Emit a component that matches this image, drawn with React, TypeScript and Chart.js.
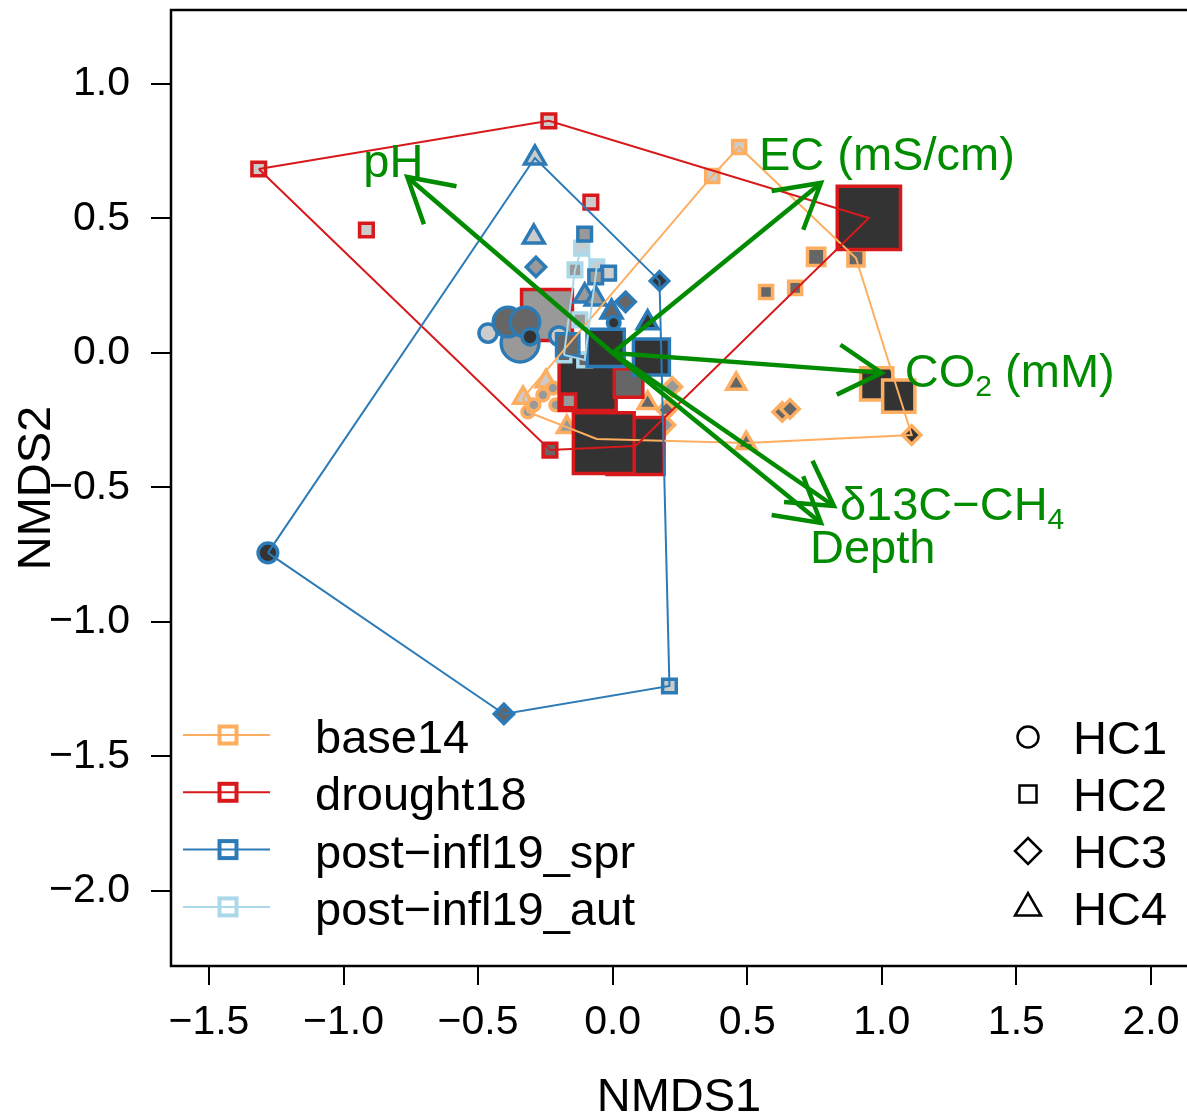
import React, { useEffect, useRef } from 'react';
import { Chart, registerables } from 'chart.js';

Chart.register(...registerables);

// ---------- data ----------
const groupNames = ['base14', 'drought18', 'post−infl19_spr', 'post−infl19_aut'];
const groupColors = ['#FDAE61', '#D7191C', '#2C7BB6', '#ABD9E9'];
const hcNames = ['HC1', 'HC2', 'HC3', 'HC4'];
const fillShades = ['#CCCCCC', '#999999', '#666666', '#333333'];

const base14X = [0.470, 0.370, 0.570, 0.678, 0.756, 0.904, 0.981, 1.063, 1.111, 0.459, 0.630, 0.659, 0.496, -0.059, -0.248, -0.333, -0.315, -0.293, -0.259, -0.222, -0.211, -0.170, 0.130, 0.222, 0.200, 0.196];
const base14Y = [0.766, 0.658, 0.227, 0.242, 0.357, 0.353, -0.115, -0.160, -0.305, -0.115, -0.219, -0.208, -0.335, -0.320, -0.105, -0.167, -0.219, -0.193, -0.156, -0.130, -0.193, -0.275, -0.186, -0.126, -0.212, -0.268];
const base14HC = [2, 2, 2, 2, 2, 2, 2, 2, 3, 4, 3, 3, 4, 4, 4, 4, 1, 1, 1, 1, 1, 4, 4, 3, 3, 3];
const base14Fill = [1, 1, 3, 3, 3, 3, 4, 4, 4, 3, 3, 3, 3, 2, 1, 1, 2, 2, 2, 2, 2, 2, 3, 2, 3, 2];
const base14Cex = [1.05, 1.05, 1.05, 1.05, 1.4, 1.3, 2.6, 2.6, 1.05, 1.0, 1.05, 1.05, 1.0, 1.0, 1.0, 1.0, 0.85, 0.85, 0.85, 0.85, 0.85, 1.0, 1.0, 1.05, 1.05, 1.05];

const drought18X = [-1.315, -0.237, -0.915, -0.081, 0.952, -0.244, 0.085, -0.093, 0.059, -0.033, -0.163, -0.233];
const drought18Y = [0.684, 0.863, 0.457, 0.561, 0.502, 0.141, -0.346, -0.108, -0.112, -0.335, -0.178, -0.361];
const drought18HC = [2, 2, 2, 2, 2, 2, 2, 2, 2, 2, 2, 2];
const drought18Fill = [1, 1, 1, 1, 4, 2, 4, 4, 3, 4, 2, 3];
const drought18Cex = [1.1, 1.1, 1.1, 1.1, 5.1, 4.1, 4.6, 4.6, 2.3, 4.9, 1.1, 1.1];

const sprX = [-0.463, -0.344, -0.389, -0.326, -0.307, -0.200, -0.289, -0.293, -0.285, -0.104, -0.015, -0.063, -0.104, -0.063, 0.048, -0.004, 0.130, 0.004, 0.174, -0.167, -0.026, 0.144, -1.281, -0.404, 0.211];
const sprY = [0.074, 0.037, 0.115, 0.115, 0.060, 0.063, 0.725, 0.431, 0.320, 0.442, 0.297, 0.283, 0.212, 0.201, 0.190, 0.152, 0.112, 0.112, 0.268, 0.030, 0.019, -0.015, -0.743, -1.342, -1.238];
const sprHC = [1, 1, 1, 1, 1, 1, 4, 4, 3, 2, 2, 2, 4, 4, 3, 4, 4, 1, 3, 2, 2, 2, 1, 3, 2];
const sprFill = [1, 2, 3, 3, 4, 1, 1, 1, 2, 2, 1, 2, 2, 2, 3, 3, 4, 4, 4, 3, 4, 4, 4, 3, 1];
const sprCex = [1.3, 2.7, 2.1, 2.1, 1.15, 1.3, 1.1, 1.1, 1.1, 1.1, 1.1, 1.1, 1.1, 1.1, 1.1, 1.1, 1.1, 0.9, 1.05, 1.8, 3.0, 2.9, 1.4, 1.1, 1.1];

const autX = [-0.115, -0.140, -0.059, -0.122, -0.181, -0.104];
const autY = [0.390, 0.309, 0.320, 0.123, -0.007, -0.026];
const autHC = [2, 2, 2, 2, 2, 2];
const autFill = [1, 2, 1, 2, 3, 3];
const autCex = [1.1, 1.1, 1.1, 1.1, 1.1, 1.1];

const envLabels = ['pH', 'EC (mS/cm)', 'CO₂ (mM)', 'δ13C−CH₄', 'Depth'];
const envX = [-0.763, 0.774, 1.000, 0.822, 0.774];
const envY = [0.654, 0.632, -0.074, -0.569, -0.632];

const xTicks = [-1.5, -1.0, -0.5, 0.0, 0.5, 1.0, 1.5, 2.0];
const yTicks = [-2.0, -1.5, -1.0, -0.5, 0.0, 0.5, 1.0];

// ---------- styling ----------
const FONT = '"Liberation Sans", Arial, Helvetica, sans-serif';
const GREEN = '#008B00';
const BASE_R = 7;
const SHAPES = ['circle', 'rect', 'rectRot', 'triangle'];
const SHAPE_FACTOR = [1, 1.253, 1.253, 1.555];
// label placement relative to arrow tip (px): dx, dy to baseline-left
const LABEL_DX = [-44, -62, 23, 6, -11];
const LABEL_DY = [0, -13, 14, 14, 40];

function convexHull(xs: number[], ys: number[]) {
  const pts = xs.map((x, i) => [x, ys[i]]).sort((a, b) => a[0] - b[0] || a[1] - b[1]);
  const cross = (o: number[], a: number[], b: number[]) =>
    (a[0] - o[0]) * (b[1] - o[1]) - (a[1] - o[1]) * (b[0] - o[0]);
  const lower: number[][] = [];
  for (const p of pts) {
    while (lower.length >= 2 && cross(lower[lower.length - 2], lower[lower.length - 1], p) <= 0) lower.pop();
    lower.push(p);
  }
  const upper: number[][] = [];
  for (let i = pts.length - 1; i >= 0; i--) {
    const p = pts[i];
    while (upper.length >= 2 && cross(upper[upper.length - 2], upper[upper.length - 1], p) <= 0) upper.pop();
    upper.push(p);
  }
  upper.pop();
  lower.pop();
  const h = lower.concat(upper);
  h.push(h[0]);
  return h.map(([x, y]) => ({ x, y }));
}

const SUBS: Record<string, string> = { '₀': '0', '₁': '1', '₂': '2', '₃': '3', '₄': '4', '₅': '5', '₆': '6', '₇': '7', '₈': '8', '₉': '9' };

function drawRich(ctx: CanvasRenderingContext2D, text: string, x: number, y: number, size: number) {
  const segs: { t: string; sub: boolean }[] = [];
  for (const ch of Array.from(text)) {
    const sub = ch in SUBS;
    const c = sub ? SUBS[ch] : ch;
    const last = segs[segs.length - 1];
    if (last && last.sub === sub) last.t += c;
    else segs.push({ t: c, sub });
  }
  let cx = x;
  ctx.textAlign = 'left';
  ctx.textBaseline = 'alphabetic';
  for (const s of segs) {
    const fs = s.sub ? size * 0.64 : size;
    ctx.font = `${fs}px ${FONT}`;
    ctx.fillText(s.t, cx, s.sub ? y + size * 0.2 : y);
    cx += ctx.measureText(s.t).width;
  }
}

const fmt = (v: number) => (v < 0 ? '−' : '') + Math.abs(v).toFixed(1);

const zeroPad = (s: any) => {
  s.paddingTop = 0;
  s.paddingBottom = 0;
  s.paddingLeft = 0;
  s.paddingRight = 0;
};

const overlayPlugin = {
  id: 'overlay',
  afterDatasetsDraw(chart: any) {
    const { ctx, scales } = chart;
    const xs = scales.x;
    const ys = scales.y;
    ctx.save();
    const ox = xs.getPixelForValue(0);
    const oy = ys.getPixelForValue(0);
    ctx.strokeStyle = GREEN;
    ctx.fillStyle = GREEN;
    ctx.lineWidth = 4.5;
    ctx.lineCap = 'butt';
    envX.forEach((vx, i) => {
      const tx = xs.getPixelForValue(vx);
      const ty = ys.getPixelForValue(envY[i]);
      const ang = Math.atan2(ty - oy, tx - ox);
      const L = 50;
      const a = Math.PI / 6;
      ctx.beginPath();
      ctx.moveTo(tx - L * Math.cos(ang - a), ty - L * Math.sin(ang - a));
      ctx.lineTo(tx, ty);
      ctx.lineTo(tx - L * Math.cos(ang + a), ty - L * Math.sin(ang + a));
      ctx.stroke();
      drawRich(ctx, envLabels[i], tx + LABEL_DX[i], ty + LABEL_DY[i], 47);
    });
    ctx.restore();
  },
  afterDraw(chart: any) {
    const { ctx, chartArea } = chart;
    const { left, top, right, bottom } = chartArea;
    ctx.save();
    ctx.strokeStyle = '#000';
    ctx.lineWidth = 2.5;
    ctx.beginPath();
    ctx.moveTo(right + 5, top);
    ctx.lineTo(left, top);
    ctx.lineTo(left, bottom);
    ctx.lineTo(right + 5, bottom);
    ctx.stroke();
    ctx.fillStyle = '#000';
    ctx.font = `47px ${FONT}`;
    ctx.textAlign = 'center';
    ctx.textBaseline = 'alphabetic';
    ctx.fillText('NMDS1', (left + right) / 2, 1111);
    ctx.save();
    ctx.translate(50, (top + bottom) / 2);
    ctx.rotate(-Math.PI / 2);
    ctx.fillText('NMDS2', 0, 0);
    ctx.restore();
    ctx.textAlign = 'left';
    groupNames.forEach((name, i) => {
      const cy = 735 + i * 57.3;
      ctx.strokeStyle = groupColors[i];
      ctx.lineWidth = 2;
      ctx.beginPath();
      ctx.moveTo(183, cy);
      ctx.lineTo(270, cy);
      ctx.stroke();
      ctx.lineWidth = 4;
      ctx.strokeRect(228 - 8.5, cy - 8.5, 17, 17);
      ctx.fillStyle = '#000';
      ctx.font = `47px ${FONT}`;
      ctx.fillText(name, 315, cy + 18);
    });
    hcNames.forEach((name, i) => {
      const cx = 1028;
      const cy = 737 + i * 57;
      ctx.strokeStyle = '#000';
      ctx.lineWidth = 2.5;
      ctx.beginPath();
      if (i === 0) {
        ctx.arc(cx, cy, 10.5, 0, Math.PI * 2);
      } else if (i === 1) {
        ctx.rect(cx - 8.5, cy - 8.5, 17, 17);
      } else if (i === 2) {
        ctx.moveTo(cx, cy - 13);
        ctx.lineTo(cx + 13, cy);
        ctx.lineTo(cx, cy + 13);
        ctx.lineTo(cx - 13, cy);
        ctx.closePath();
      } else {
        const r = 15;
        ctx.moveTo(cx, cy - r);
        ctx.lineTo(cx + r * Math.sin((2 * Math.PI) / 3), cy + r / 2);
        ctx.lineTo(cx - r * Math.sin((2 * Math.PI) / 3), cy + r / 2);
        ctx.closePath();
      }
      ctx.stroke();
      ctx.fillStyle = '#000';
      ctx.font = `47px ${FONT}`;
      ctx.fillText(name, 1073, cy + 17);
    });
    ctx.restore();
  },
};

export default function App() {
  const ref = useRef<HTMLCanvasElement | null>(null);

  useEffect(() => {
    if (!ref.current) return;
    const groups = [
      { x: base14X, y: base14Y, hc: base14HC, fill: base14Fill, cex: base14Cex, color: groupColors[0] },
      { x: drought18X, y: drought18Y, hc: drought18HC, fill: drought18Fill, cex: drought18Cex, color: groupColors[1] },
      { x: sprX, y: sprY, hc: sprHC, fill: sprFill, cex: sprCex, color: groupColors[2] },
      { x: autX, y: autY, hc: autHC, fill: autFill, cex: autCex, color: groupColors[3] },
    ];
    const pointSet = (g: any) => ({
      data: g.x.map((x: number, i: number) => ({ x, y: g.y[i] })),
      showLine: false,
      pointStyle: g.hc.map((h: number) => SHAPES[h - 1]),
      pointRadius: g.hc.map((h: number, i: number) => g.cex[i] * BASE_R * SHAPE_FACTOR[h - 1]),
      pointBackgroundColor: g.fill.map((f: number) => fillShades[f - 1]),
      pointBorderColor: g.color,
      pointBorderWidth: 3.5,
    });
    const hullSet = (g: any) => ({
      data: convexHull(g.x, g.y),
      showLine: true,
      borderColor: g.color,
      borderWidth: 2,
      pointRadius: 0,
      fill: false,
      tension: 0,
    });
    const arrowSets = envX.map((vx, i) => ({
      data: [{ x: 0, y: 0 }, { x: vx, y: envY[i] }],
      showLine: true,
      borderColor: GREEN,
      borderWidth: 4.5,
      borderCapStyle: 'butt',
      pointRadius: 0,
      fill: false,
    }));
    const seq: any[] = [
      pointSet(groups[0]),
      pointSet(groups[1]),
      pointSet(groups[3]),
      pointSet(groups[2]),
      hullSet(groups[0]),
      hullSet(groups[1]),
      hullSet(groups[2]),
      hullSet(groups[3]),
      ...arrowSets,
    ];
    seq.forEach((d, i) => (d.order = seq.length - i));

    const chart = new Chart(ref.current, {
      type: 'scatter',
      data: { datasets: seq },
      options: {
        animation: false,
        responsive: false,
        devicePixelRatio: 1,
        events: [],
        layout: { autoPadding: false, padding: { top: 10, right: 0, left: 0, bottom: 0 } },
        plugins: {
          legend: { display: false },
          tooltip: { enabled: false },
          title: { display: false },
        },
        scales: {
          x: {
            type: 'linear',
            min: -1.641,
            max: 2.134,
            afterFit: (s: any) => {
              s.height = 154;
              zeroPad(s);
            },
            afterBuildTicks: (s: any) => {
              s.ticks = xTicks.map((v) => ({ value: v }));
            },
            grid: { display: true, drawOnChartArea: false, drawTicks: true, tickLength: 19, color: '#000', lineWidth: 2 },
            border: { display: false },
            ticks: {
              color: '#000',
              font: { family: FONT, size: 41 },
              padding: 13,
              maxRotation: 0,
              autoSkip: false,
              callback: (v: any) => fmt(Number(v)),
            },
          },
          y: {
            type: 'linear',
            min: -2.279,
            max: 1.275,
            afterFit: (s: any) => {
              s.width = 171;
              zeroPad(s);
            },
            afterBuildTicks: (s: any) => {
              s.ticks = yTicks.map((v) => ({ value: v }));
            },
            grid: { display: true, drawOnChartArea: false, drawTicks: true, tickLength: 20, color: '#000', lineWidth: 2 },
            border: { display: false },
            ticks: {
              color: '#000',
              font: { family: FONT, size: 41 },
              padding: 21,
              autoSkip: false,
              callback: (v: any) => fmt(Number(v)),
            },
          },
        },
      },
      plugins: [overlayPlugin],
    } as any);
    return () => chart.destroy();
  }, []);

  return (
    <div style={{ position: 'absolute', left: 0, top: 0, width: 1187, height: 1120, background: '#fff' }}>
      <canvas ref={ref} width={1187} height={1120} style={{ width: 1187, height: 1120, display: 'block' }} />
    </div>
  );
}
